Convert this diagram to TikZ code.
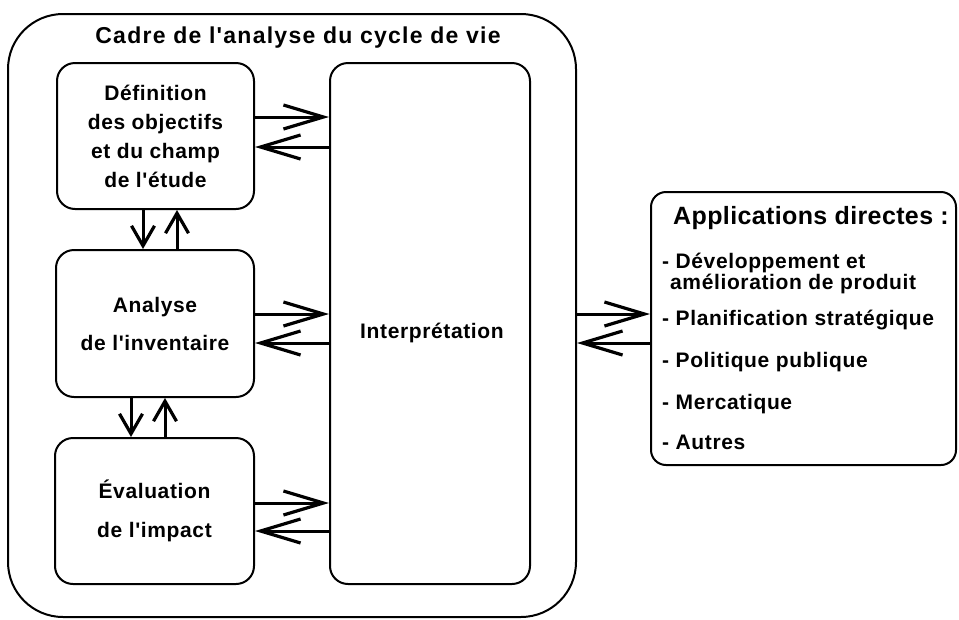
\documentclass[tikz,border=0pt]{standalone}
\usepackage{fontspec}
\setmainfont{Liberation Sans}
\newfontfamily\lbf{Liberation Sans}[LetterSpace=3]
\newfontfamily\titlefont{Liberation Sans}[LetterSpace=5.5]
\newfontfamily\appfont{Liberation Sans}[LetterSpace=1.5]
\usetikzlibrary{arrows.meta,calc}
\tikzset{
  frame/.style={draw=black, line width=2pt},
  box/.style={frame, rounded corners=18pt, inner sep=0pt},
  txt/.style={inner sep=0pt, font=\lbf\bfseries\fontsize{21}{29}\selectfont},
  harr/.style={line width=3pt, -{Straight Barb[length=40pt,width=24pt,line width=3.2pt]}},
  varr/.style={line width=3pt, -{Straight Barb[length=20pt,width=23pt,line width=3.2pt]}},
}
\begin{document}
\begin{tikzpicture}[x=1pt,y=-1pt]
\useasboundingbox (0,0) rectangle (959,619);
% outer frame
\node[frame, rounded corners=55pt, minimum width=568pt, minimum height=603pt, inner sep=0pt] (cadre) at (292,315.5) {};
\node[txt, font=\titlefont\bfseries\fontsize{23}{26}\selectfont] (titre) at (298,37.5) {Cadre de l'analyse du cycle de vie};
% left boxes
\node[box, minimum width=197pt, minimum height=146pt, align=center, txt] (b1) at (155.5,136)
  {Définition\\des objectifs\\et du champ\\de l'étude};
\node[box, minimum width=198pt, minimum height=147pt, align=center, txt, font=\lbf\bfseries\fontsize{21}{38}\selectfont] (b2) at (155,323.5)
  {Analyse\\de l'inventaire};
\node[box, minimum width=199pt, minimum height=146pt, align=center, txt, font=\lbf\bfseries\fontsize{21}{39}\selectfont] (b3) at (154.5,511)
  {Évaluation\\de l'impact};
% interpretation
\node[box, minimum width=200pt, minimum height=521pt] (interp) at (430,323.5) {};
\node[txt] (interptxt) at (432,333) {Interprétation};
% horizontal arrows
\draw[harr] (b1.east |- 0,117) -- (interp.west |- 0,117);
\draw[harr] (interp.west |- 0,147) -- (b1.east |- 0,147);
\draw[harr] (b2.east |- 0,314) -- (interp.west |- 0,314);
\draw[harr] (interp.west |- 0,343) -- (b2.east |- 0,343);
\draw[harr] (b3.east |- 0,503) -- (interp.west |- 0,503);
\draw[harr] (interp.west |- 0,531) -- (b3.east |- 0,531);
% vertical arrows
\draw[varr] (b1.south -| 143,0) -- (b2.north -| 143,0);
\draw[varr] (b2.north -| 177,0) -- (b1.south -| 177,0);
\draw[varr] (b2.south -| 131,0) -- (b3.north -| 131,0);
\draw[varr] (b3.north -| 165,0) -- (b2.south -| 165,0);
% applications
\node[box, rounded corners=15pt, minimum width=305pt, minimum height=273pt] (app) at (803.5,328.5) {};
\draw[harr] (cadre.east |- 0,314) -- (app.west |- 0,314);
\draw[harr] (app.west |- 0,343) -- (cadre.east |- 0,343);
\node[txt, anchor=base west, font=\appfont\bfseries\fontsize{25}{27}\selectfont] (apptitle) at (673,224) {Applications directes :};
\node[txt, anchor=base west] (a1) at (662,268) {- Développement et};
\node[txt, anchor=base west] (a1b) at (670,289) {amélioration de produit};
\node[txt, anchor=base west] (a2) at (662,325) {- Planification stratégique};
\node[txt, anchor=base west] (a3) at (662,367) {- Politique publique};
\node[txt, anchor=base west] (a4) at (662,409) {- Mercatique};
\node[txt, anchor=base west] (a5) at (662,449) {- Autres};
\end{tikzpicture}
\end{document}
